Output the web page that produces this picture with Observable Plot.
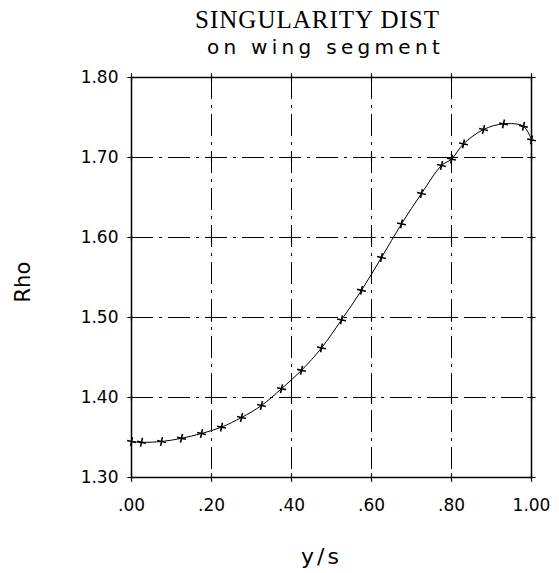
<!DOCTYPE html>
<html>
<head>
<meta charset="utf-8">
<script src="https://cdn.jsdelivr.net/npm/d3@7"></script>
<script src="https://cdn.jsdelivr.net/npm/@observablehq/plot@0.6"></script>
<style>
  html, body { margin: 0; padding: 0; background: #fff; }
  svg { display: block; }
</style>
</head>
<body>
<div id="chart"></div>
<script>
// Data
const ys = [0, 0.025, 0.075, 0.125, 0.175, 0.225, 0.275, 0.325, 0.375, 0.425, 0.475, 0.525, 0.575, 0.625, 0.675, 0.725, 0.775, 0.80, 0.83, 0.88, 0.93, 0.98, 1.0];
const rho = [1.345, 1.344, 1.345, 1.349, 1.355, 1.363, 1.375, 1.390, 1.411, 1.434, 1.462, 1.497, 1.534, 1.575, 1.617, 1.655, 1.690, 1.698, 1.717, 1.735, 1.742, 1.739, 1.722];

const xTicks = [0, 0.2, 0.4, 0.6, 0.8, 1.0];
const xTickLabels = [".00", ".20", ".40", ".60", ".80", "1.00"];
const yTicks = [1.3, 1.4, 1.5, 1.6, 1.7, 1.8];
const yTickLabels = ["1.30", "1.40", "1.50", "1.60", "1.70", "1.80"];

const title = "SINGULARITY DIST";
const subtitle = "on wing segment";
const xLabel = "y/s";
const yLabel = "Rho";

const data = ys.map((x, i) => ({x, rho: rho[i]}));
const crosses = xTicks.flatMap(x => yTicks.map(y => ({x, y})));

const sans = "DejaVu Sans, sans-serif";
const dash = "22,6,3,6";

const chart = Plot.plot({
  width: 559,
  height: 573,
  marginLeft: 131,
  marginRight: 28,
  marginTop: 77,
  marginBottom: 96,
  style: {fontFamily: sans, fontSize: "17px", color: "#000", background: "#fff"},
  x: {domain: [0, 1]},
  y: {domain: [1.3, 1.8]},
  marks: [
    Plot.gridX(xTicks, {stroke: "#000", strokeOpacity: 1, strokeWidth: 1, strokeDasharray: dash}),
    Plot.gridY(yTicks, {stroke: "#000", strokeOpacity: 1, strokeWidth: 1, strokeDasharray: dash}),
    Plot.frame({stroke: "#000", strokeWidth: 1.5}),
    Plot.dot(crosses, {x: "x", y: "y", symbol: "plus", r: 2.8, stroke: "#000", strokeWidth: 1.2}),
    Plot.axisX(xTicks, {tickSize: 0, tickPadding: 21, tickFormat: (d, i) => xTickLabels[i], fontSize: 17, label: null}),
    Plot.axisY(yTicks, {tickSize: 0, tickPadding: 13, tickFormat: (d, i) => yTickLabels[i], fontSize: 17, label: null}),
    Plot.line(data, {x: "x", y: "rho", curve: "catmull-rom", stroke: "#000", strokeWidth: 1}),
    Plot.dot(data, {x: "x", y: "rho", symbol: "plus", r: 3, stroke: "#000", strokeWidth: 1.6, rotate: 12}),
    Plot.text([title], {frameAnchor: "top", dy: -50, dx: -14, lineAnchor: "bottom", fontFamily: "Liberation Serif, serif", fontSize: 25, text: d => d}),
    Plot.text([subtitle], {frameAnchor: "top", dy: -24, dx: -6, lineAnchor: "bottom", fontFamily: sans, fontSize: 20, text: d => d}),
    Plot.text([xLabel], {frameAnchor: "bottom", dy: 86, dx: -10, lineAnchor: "bottom", fontFamily: sans, fontSize: 22, text: d => d}),
    Plot.text([yLabel], {frameAnchor: "left", dx: -108, dy: 25, rotate: -90, lineAnchor: "middle", fontFamily: sans, fontSize: 21, text: d => d})
  ]
});

// letter spacing for title, subtitle and x label
const sel = d3.select(chart).selectAll("text");
sel.filter(function() { return this.textContent === title; }).attr("letter-spacing", "1px");
sel.filter(function() { return this.textContent === subtitle; }).attr("letter-spacing", "4.3px");
sel.filter(function() { return this.textContent === xLabel; }).attr("letter-spacing", "3px");

document.getElementById("chart").appendChild(chart);
</script>
</body>
</html>
